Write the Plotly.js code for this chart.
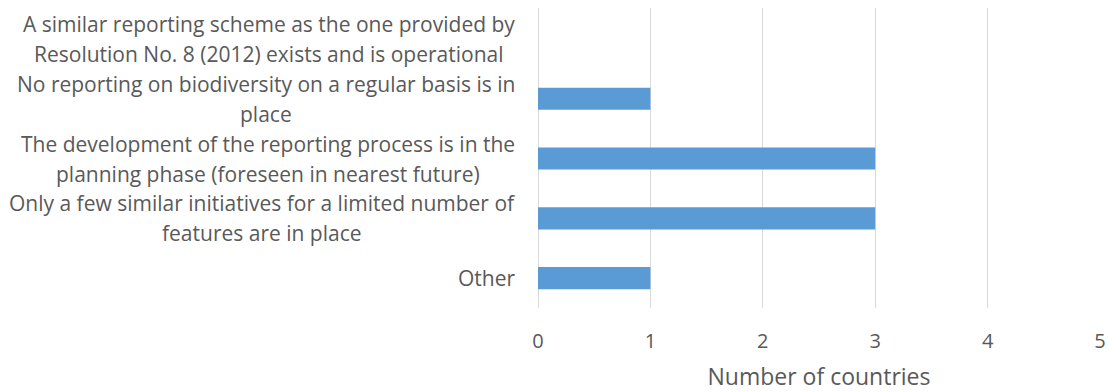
<!DOCTYPE html>
<html>
<head>
<meta charset="utf-8">
<script src="https://cdn.plot.ly/plotly-3.0.1.min.js"></script>
<style>html,body{margin:0;padding:0;background:#fff;}#chart{width:1109px;height:392px;}</style>
</head>
<body>
<div id="chart"></div>
<script>
// Data
const categories = [
  "A similar reporting scheme as the one provided by\nResolution No. 8 (2012) exists and is operational",
  "No reporting on biodiversity on a regular basis is in\nplace",
  "The development of the reporting process is in the\nplanning phase (foreseen in nearest future)",
  "Only a few similar initiatives for a limited number of\nfeatures are in place",
  "Other"
];
const values = [0, 1, 3, 3, 1];
const xTickValues = [0, 1, 2, 3, 4, 5];
const xAxisTitle = "Number of countries";

const FONT = "'Open Sans', sans-serif";
const TEXT_COLOR = "#595959";
const LABEL_SIZE = 21;
const LINE_H = 30;

// measure text width for centering multi-line labels
const cv = document.createElement('canvas').getContext('2d');
cv.font = LABEL_SIZE + "px 'Open Sans'";

const annotations = [];
categories.forEach((cat) => {
  const lines = cat.split("\n");
  const maxW = Math.max(...lines.map(l => cv.measureText(l).width));
  const n = lines.length;
  lines.forEach((line, i) => {
    annotations.push({
      xref: 'paper', yref: 'y',
      x: 0, y: cat,
      xanchor: 'center', yanchor: 'middle',
      xshift: -23 - maxW / 2,
      yshift: ((n - 1) / 2 - i) * LINE_H,
      text: line, showarrow: false,
      font: {family: FONT, size: LABEL_SIZE, color: TEXT_COLOR}
    });
  });
});

const trace = {
  type: 'bar', orientation: 'h',
  y: categories, x: values,
  marker: {color: '#5B9BD5'},
  hoverinfo: 'x+y'
};

const layout = {
  width: 1109, height: 392,
  margin: {l: 538, r: 9, t: 8, b: 84},
  paper_bgcolor: '#fff', plot_bgcolor: '#fff',
  bargap: 0.63,
  showlegend: false,
  font: {family: FONT, color: TEXT_COLOR},
  xaxis: {
    range: [0, 5], tickvals: xTickValues, ticktext: xTickValues.map(String),
    showgrid: true, gridcolor: '#d9d9d9', gridwidth: 1,
    zeroline: true, zerolinecolor: '#d9d9d9', zerolinewidth: 1,
    showline: false,
    ticks: 'outside', ticklen: 15, tickcolor: 'rgba(0,0,0,0)',
    tickfont: {family: FONT, size: 20, color: TEXT_COLOR},
    title: {text: xAxisTitle, font: {family: FONT, size: 23, color: TEXT_COLOR}, standoff: 17},
    automargin: false, fixedrange: true
  },
  yaxis: {
    type: 'category', categoryorder: 'array', categoryarray: categories,
    autorange: 'reversed',
    showticklabels: false, showgrid: false, zeroline: false, showline: false,
    ticks: '', automargin: false, fixedrange: true
  },
  annotations: annotations
};

Plotly.newPlot('chart', [trace], layout, {displayModeBar: false, staticPlot: true});
</script>
</body>
</html>
